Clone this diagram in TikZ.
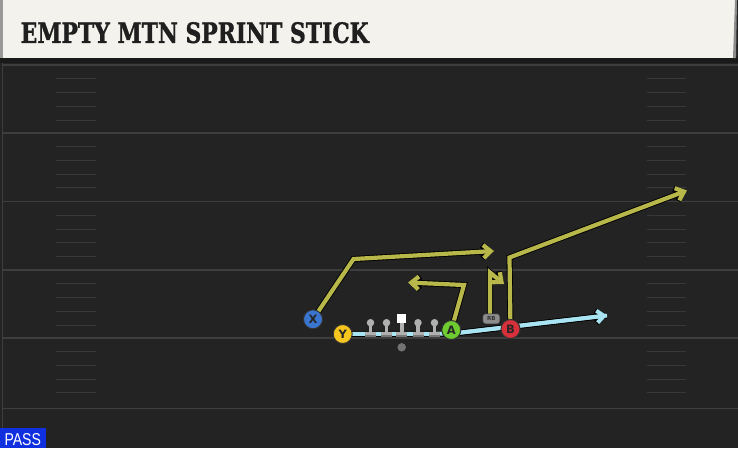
\documentclass[tikz,border=0pt]{standalone}
\usepackage{fontspec}
\setmainfont{DejaVu Serif}
\newfontfamily\titlefont{DejaVu Serif Bold}[FakeBold=1.3]
\newfontfamily\passfont{Liberation Sans}
\newfontfamily\letterfont{DejaVu Sans}
\usetikzlibrary{arrows.meta}
\definecolor{field}{RGB}{35,35,35}
\definecolor{yardline}{RGB}{62,62,62}
\definecolor{hashc}{RGB}{56,56,56}
\definecolor{headbg}{RGB}{244,242,236}
\definecolor{olive}{RGB}{183,183,74}
\definecolor{skyline}{RGB}{168,228,242}
\definecolor{xblue}{RGB}{58,118,208}
\definecolor{yyellow}{RGB}{246,198,30}
\definecolor{agreen}{RGB}{110,204,48}
\definecolor{bred}{RGB}{216,48,58}
\definecolor{linegray}{RGB}{176,176,176}
\definecolor{basedark}{RGB}{120,120,120}
\definecolor{passblue}{RGB}{16,48,224}
\tikzset{
  routetip/.style={-{Straight Barb[length=7.5pt,width=13pt]}},
  routeline/.style={line width=4.2pt, draw=olive, line join=miter, routetip,
    preaction={draw=black, line width=6pt, routetip}},
  bluetipst/.style={-{Straight Barb[length=7pt,width=12pt]}},
  blueline/.style={line width=4pt, draw=skyline, line join=round},
  blueouter/.style={line width=5.8pt, draw=black, line join=round},
  player/.style={circle, minimum size=19pt, inner sep=0pt, draw=black!80, line width=1pt,
    font=\letterfont\bfseries\fontsize{11.5}{11.5}\selectfont, text=black!85},
  headc/.style={circle, fill=linegray, minimum size=7.5pt, inner sep=0pt},
  yardl/.style={draw=yardline, line width=1.6pt},
  hashl/.style={draw=hashc, line width=1pt},
}
\begin{document}
\begin{tikzpicture}[x=1pt,y=-1pt]
\useasboundingbox (0,0) rectangle (738,448);
% background
\fill[field] (0,0) rectangle (738,448);
\fill[black!90] (0,56) rectangle (738,63);
% header
\fill[headbg] (0,0) rectangle (735,58);
\fill[black!40] (0,0) rectangle (3,58);
\fill[black!45] (735,0) -- (737,0) -- (736,58) -- (733,58) -- cycle;
\node[anchor=south west, inner sep=0pt, text=black!88] (title) at (20.5,43.5)
  {\resizebox{348pt}{20.8pt}{\titlefont EMPTY MTN SPRINT STICK}};
% left edge line
\draw[draw=yardline, line width=1pt] (2,63) -- (2,448);
% yard lines
\foreach \yy in {65,132.8,201.6,270,337.8,408.3} {
  \draw[yardl] (3,\yy) -- (738,\yy);
}
% hash marks
\foreach \yy in {65,132.8,201.6,270,337.8} {
  \foreach \k in {1,2,3,4} {
    \draw[hashl] (56,\yy+13.75*\k) -- (96,\yy+13.75*\k);
    \draw[hashl] (647,\yy+13.75*\k) -- (686,\yy+13.75*\k);
  }
}
% coordinates
\coordinate (ylineend) at (451,333.7);
\coordinate (bluetip) at (607,315.5);
\coordinate (xcorner) at (353.5,259);
\coordinate (xtip) at (494,251);
\coordinate (acorner) at (464,285);
\coordinate (atip) at (408,282.5);
\coordinate (rbtop) at (490,272.5);
\coordinate (rbtip) at (504,284);
\coordinate (bcorner) at (509.5,257.5);
\coordinate (btip) at (687,190.5);
\coordinate (Xc) at (313,319.3);
\coordinate (Yc) at (342.7,334);
\coordinate (Ac) at (451.3,330);
\coordinate (Bc) at (510.5,329);
% blue line
\draw[blueouter] (Yc) -- (ylineend) -- (bluetip);
\draw[blueouter, bluetipst] (ylineend) -- (bluetip);
\draw[blueline] (Yc) -- (ylineend) -- (bluetip);
\draw[blueline, bluetipst] (ylineend) -- (bluetip);
% routes
\draw[routeline] (Xc) -- (xcorner) -- (xtip);
\draw[routeline] (Ac) -- (acorner) -- (atip);
\draw[routeline] (490,318) -- (rbtop) -- (rbtip);
\draw[routeline] (Bc) -- (bcorner) -- (btip);
% linemen
\foreach \lx/\nm in {370.5/lt,386.5/lg,418/rg,434.5/rt} {
  \fill[basedark] (\lx-5.5,333) rectangle (\lx+5.5,337.3);
  \fill[linegray] (\lx-5.5,331.5) rectangle (\lx+5.5,335);
  \fill[linegray] (\lx-1.8,324) rectangle (\lx+1.8,333);
  \node[headc] (\nm) at (\lx,322.7) {};
}
\fill[basedark] (401.7-5.5,333) rectangle (401.7+5.5,337.3);
\fill[linegray] (401.7-5.5,331.5) rectangle (401.7+5.5,335);
\fill[linegray] (401.7-1.8,322) rectangle (401.7+1.8,333);
\node[fill=white, minimum size=9pt, inner sep=0pt] (ctr) at (401.7,318.3) {};
% ball
\node[circle, fill=black!55, minimum size=8.5pt, inner sep=0pt] (ball) at (401.7,347.3) {};
% RB tag
\node[rounded corners=2.5pt, fill=black!45, draw=black!80, line width=0.6pt, minimum width=17pt, minimum height=10pt,
  inner sep=0pt, font=\letterfont\bfseries\fontsize{5.5}{5.5}\selectfont, text=black!80] (rb) at (491.3,318.8) {RB};
% players
\node[player, fill=xblue] (X) at (Xc) {X};
\node[player, fill=yyellow] (Y) at (Yc) {Y};
\node[player, fill=agreen] (A) at (Ac) {A};
\node[player, fill=bred] (B) at (Bc) {B};
% PASS tag
\fill[passblue] (0,428.3) rectangle (46,448);
\node[anchor=south west, inner sep=0pt, text=white] (pass) at (4.3,445.5)
  {\resizebox{36.5pt}{12pt}{\passfont PASS}};
\end{tikzpicture}
\end{document}
